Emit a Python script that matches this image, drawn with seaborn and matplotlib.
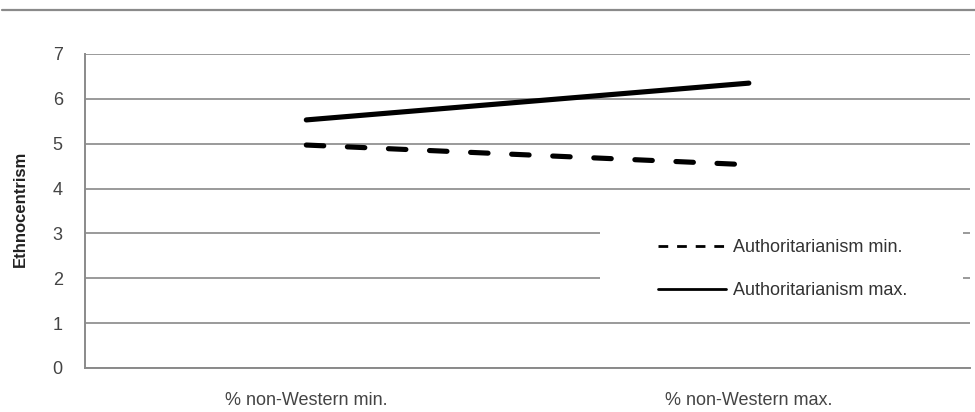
import numpy as np
import pandas as pd
import seaborn as sns
import matplotlib.pyplot as plt
from matplotlib.lines import Line2D
from matplotlib.patches import Rectangle

categories = ['% non-Western min.', '% non-Western max.']
auth_min = [4.97, 4.53]
auth_max = [5.53, 6.35]
series_names = ['Authoritarianism min.', 'Authoritarianism max.']
y_ticks = [0, 1, 2, 3, 4, 5, 6, 7]

sns.set_theme(style='white')
plt.rcParams['font.family'] = ['Liberation Sans', 'DejaVu Sans']

df = pd.DataFrame({
    'pos': list(np.arange(len(categories))) * 2,
    'value': auth_min + auth_max,
    'series': [series_names[0]] * 2 + [series_names[1]] * 2,
})

fig = plt.figure(figsize=(9.75, 4.12), dpi=100)
ax = fig.add_axes([0.0872, 0.1068, 0.9078, 0.7622])

sns.lineplot(data=df, x='pos', y='value', style='series', color='black',
             dashes={series_names[0]: (3.4, 4.6), series_names[1]: ''},
             linewidth=3.7, legend=False, ax=ax, zorder=3)
for ln in ax.lines:
    ln.set_solid_capstyle('round')
    ln.set_dash_capstyle('round')

ax.set_xlim(-0.5, 1.5)
ax.set_ylim(0, 7)
ax.set_yticks(y_ticks)
ax.set_yticklabels([str(t) for t in y_ticks], fontsize=13, color='#444444')
ax.set_xticks(np.arange(len(categories)))
ax.set_xticklabels(categories, fontsize=13, color='#444444')
ax.tick_params(axis='y', length=0, pad=16)
ax.tick_params(axis='x', length=0, pad=17)
ax.set_axisbelow(True)
ax.yaxis.grid(True, color='#9a9a9a', linewidth=1.4)
ax.xaxis.grid(False)

for s in ['top', 'right']:
    ax.spines[s].set_visible(False)
for s in ['left', 'bottom']:
    ax.spines[s].set_color('#8a8a8a')
    ax.spines[s].set_linewidth(1.4)

ax.set_xlabel('')
ax.set_ylabel('Ethnocentrism', fontsize=12, fontweight='bold', color='#222222')
ax.yaxis.set_label_coords(-0.0644, 0.506)

# white box behind legend covering gridlines
ax.add_patch(Rectangle((0.582, 0.217), 0.41, 0.23, transform=ax.transAxes,
                       facecolor='white', edgecolor='none', zorder=1))

handles = [
    Line2D([], [], color='black', linewidth=2.0, dashes=(3.5, 3.2), dash_capstyle='butt'),
    Line2D([], [], color='black', linewidth=2.0),
]
ax.legend(handles, series_names, loc='upper left', bbox_to_anchor=(0.647, 0.41),
          frameon=False, fontsize=13, handlelength=3.8, handletextpad=0.35,
          labelspacing=1.45, borderpad=0, borderaxespad=0, labelcolor='#333333')

# top rule across the figure
fig.add_artist(Line2D([0.002, 1.0], [0.976, 0.976], transform=fig.transFigure,
                      color='#8a8a8a', linewidth=1.6))

fig.savefig('out.png', dpi=100, facecolor='white')
